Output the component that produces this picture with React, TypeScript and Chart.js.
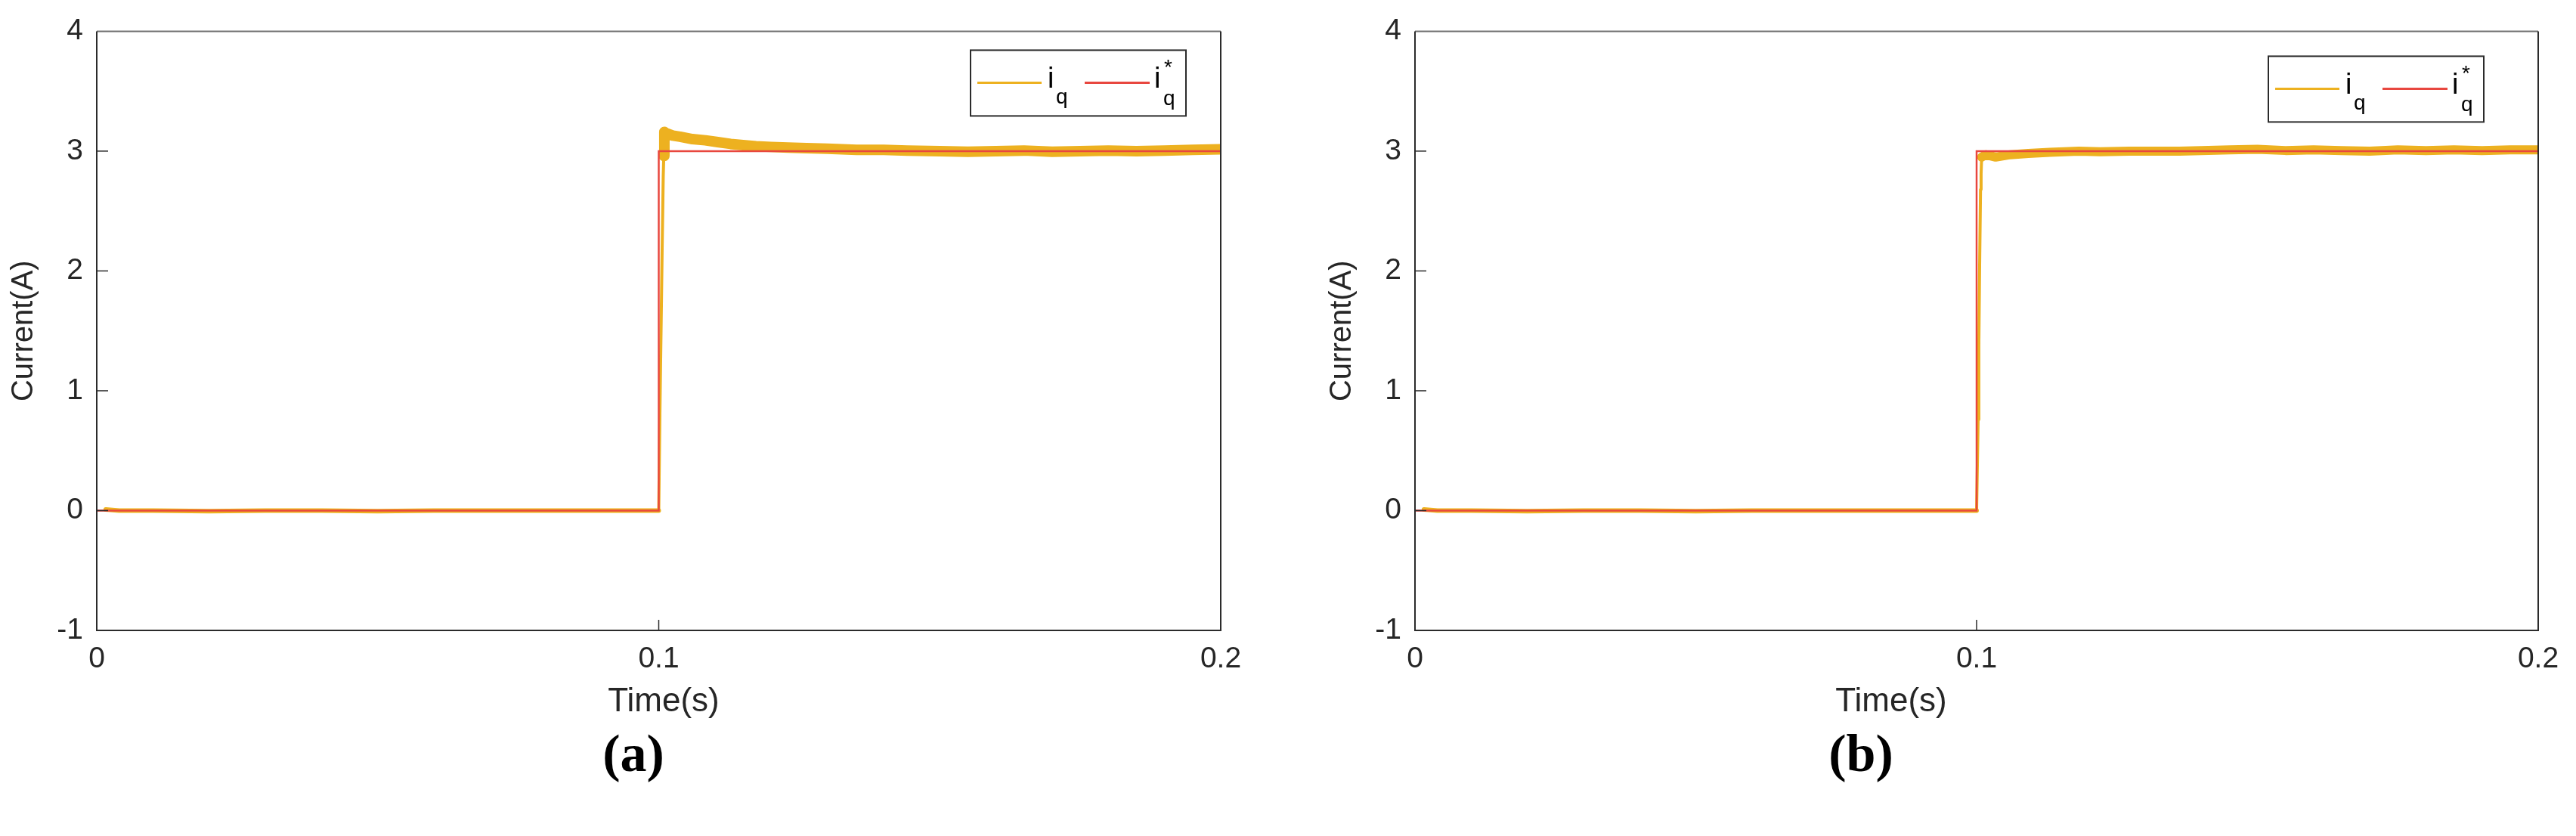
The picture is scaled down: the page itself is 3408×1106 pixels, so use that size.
import React, { useEffect, useRef } from 'react';
import { Chart, registerables } from 'chart.js';

Chart.register(...registerables);

// ---------- data ----------
const xTickValues = [0, 0.1, 0.2];
const yTickValues = [-1, 0, 1, 2, 3, 4];

// reference current i_q* (same in both panels)
const refTime = [0, 0.1, 0.1, 0.2];
const refCurrent = [0, 0, 3, 3];

// measured i_q, panel (a)
const timeA = [0.0016, 0.004, 0.01, 0.02, 0.03, 0.04, 0.05, 0.06, 0.07, 0.08, 0.09, 0.1,
  0.1002, 0.1004, 0.1006, 0.1008, 0.1009, 0.101, 0.1013, 0.1025, 0.1038, 0.106, 0.1083,
  0.1105, 0.1128, 0.115, 0.1173, 0.12, 0.123, 0.1263, 0.13, 0.1352, 0.14, 0.1442, 0.15,
  0.155, 0.16, 0.165, 0.17, 0.175, 0.18, 0.185, 0.19, 0.195, 0.2];
const iqA = [0.01, 0, 0, -0.005, 0, 0, -0.005, 0, 0, 0, 0, 0,
  0.79, 1.47, 2.16, 2.79, 2.96, 3.16, 3.15, 3.13, 3.12, 3.1, 3.09,
  3.075, 3.06, 3.05, 3.04, 3.035, 3.03, 3.025, 3.02, 3.01, 3.01, 3.005, 3.0,
  2.995, 3.0, 3.005, 2.995, 3.0, 3.005, 3.0, 3.005, 3.01, 3.015];

// measured i_q, panel (b)
const timeB = [0.0016, 0.004, 0.01, 0.02, 0.03, 0.04, 0.05, 0.06, 0.07, 0.08, 0.09, 0.1,
  0.10027, 0.1004, 0.10054, 0.1007, 0.1008, 0.1009, 0.1016, 0.1034, 0.106, 0.1092, 0.113,
  0.1182, 0.122, 0.1272, 0.131, 0.1361, 0.14, 0.1451, 0.15, 0.155, 0.16, 0.165, 0.17,
  0.175, 0.18, 0.185, 0.19, 0.195, 0.2];
const iqB = [0.01, 0, 0, -0.005, 0, 0, -0.005, 0, 0, 0, 0, 0,
  0.76, 1.39, 2.05, 2.68, 2.81, 2.95, 2.97, 2.95, 2.97, 2.98, 2.99,
  3.0, 2.995, 3.0, 3.0, 3.0, 3.005, 3.01, 3.015, 3.005, 3.01, 3.005, 3.0,
  3.01, 3.005, 3.01, 3.005, 3.01, 3.01];

const xTitleText = 'Time(s)';
const yTitleText = 'Current(A)';
const captions = ['(a)', '(b)'];

// ---------- styles ----------
const FONT = "'Liberation Sans', Arial, Helvetica, sans-serif";
const YELLOW = '#EDB120';
const RED = '#E8473F';
const AXIS_DARK = '#2b2b2b';
const AXIS_LIGHT = '#727272';
const TEXT = '#262626';
const CANVAS_H = 970;

type PanelProps = {
  time: number[];
  iq: number[];
  left: number;
  width: number;
  padRight: number;
  legendRightGap: number;
  legendTopGap: number;
  xTitleX: number;
  bandWidth: number;
};

function makePlugins(p: PanelProps) {
  const frame = {
    id: 'frameTicks',
    afterDatasetsDraw(chart: any) {
      const { ctx, chartArea } = chart;
      const { left, right, top, bottom } = chartArea;
      const xs = chart.scales.x;
      const ys = chart.scales.y;
      ctx.save();
      ctx.lineWidth = 2;
      const line = (x1: number, y1: number, x2: number, y2: number) => {
        ctx.beginPath();
        ctx.moveTo(x1, y1);
        ctx.lineTo(x2, y2);
        ctx.stroke();
      };
      ctx.strokeStyle = AXIS_LIGHT;
      line(left, top, right, top);
      ctx.strokeStyle = AXIS_DARK;
      line(right, top, right, bottom);
      line(left, top, left, bottom + 1);
      line(left - 1, bottom, right + 1, bottom);
      ctx.lineWidth = 1.5;
      yTickValues.forEach((v) => {
        const y = ys.getPixelForValue(v);
        if (Math.abs(y - top) < 2 || Math.abs(y - bottom) < 2) return;
        line(left, y, left + 15, y);
      });
      xTickValues.forEach((v) => {
        const x = xs.getPixelForValue(v);
        if (Math.abs(x - left) < 2 || Math.abs(x - right) < 2) return;
        line(x, bottom, x, bottom - 14);
      });
      ctx.restore();
    },
  };

  const legend = {
    id: 'subLegend',
    afterDraw(chart: any) {
      const { ctx, chartArea } = chart;
      const W = 285;
      const H = 87;
      const L = chartArea.right - p.legendRightGap - W;
      const T = chartArea.top + p.legendTopGap;
      ctx.save();
      ctx.fillStyle = '#ffffff';
      ctx.fillRect(L, T, W, H);
      ctx.strokeStyle = AXIS_DARK;
      ctx.lineWidth = 2;
      ctx.strokeRect(L, T, W, H);
      ctx.lineWidth = 3;
      ctx.strokeStyle = YELLOW;
      ctx.beginPath();
      ctx.moveTo(L + 9, T + 43);
      ctx.lineTo(L + 94, T + 43);
      ctx.stroke();
      ctx.strokeStyle = RED;
      ctx.beginPath();
      ctx.moveTo(L + 151, T + 43);
      ctx.lineTo(L + 237, T + 43);
      ctx.stroke();
      ctx.fillStyle = '#000000';
      ctx.textAlign = 'left';
      ctx.textBaseline = 'alphabetic';
      ctx.font = `38px ${FONT}`;
      ctx.fillText('i', L + 102, T + 50);
      ctx.fillText('i', L + 243, T + 50);
      ctx.font = `28px ${FONT}`;
      ctx.fillText('q', L + 113, T + 71);
      ctx.fillText('q', L + 255, T + 73);
      ctx.fillText('*', L + 256, T + 32);
      ctx.restore();
    },
  };

  const xTitle = {
    id: 'xTitleText',
    afterDraw(chart: any) {
      const { ctx } = chart;
      ctx.save();
      ctx.fillStyle = TEXT;
      ctx.font = `44px ${FONT}`;
      ctx.textAlign = 'center';
      ctx.textBaseline = 'alphabetic';
      ctx.fillText(xTitleText, p.xTitleX, 941);
      ctx.restore();
    },
  };
  return [frame, legend, xTitle];
}

function Panel(p: PanelProps) {
  const ref = useRef<HTMLCanvasElement | null>(null);
  useEffect(() => {
    const canvas = ref.current;
    if (!canvas) return;
    const measured = p.time.map((t, i) => ({ x: t, y: p.iq[i] }));
    const reference = refTime.map((t, i) => ({ x: t, y: refCurrent[i] }));
    const chart = new Chart(canvas, {
      type: 'line',
      data: {
        datasets: [
          {
            label: 'i_q*',
            data: reference,
            borderColor: RED,
            borderWidth: 2.5,
            pointRadius: 0,
            tension: 0,
            clip: 0,
          } as any,
          {
            label: 'i_q',
            data: measured,
            borderColor: YELLOW,
            borderWidth: 4,
            pointRadius: 0,
            tension: 0,
            borderJoinStyle: 'round',
            borderCapStyle: 'round',
            clip: 0,
            segment: {
              borderWidth: (c: any) => {
                const a = c.p0.parsed.y;
                const b = c.p1.parsed.y;
                if (a > 2.94 && b > 2.94) return p.bandWidth;
                if (Math.abs(a) < 0.3 && Math.abs(b) < 0.3) return 6;
                return 4;
              },
            },
          } as any,
        ],
      },
      options: {
        responsive: false,
        animation: false,
        devicePixelRatio: 1,
        events: [],
        layout: { padding: { left: 0, top: 38, right: p.padRight, bottom: CANVAS_H - 834 - 130 } },
        plugins: { legend: { display: false }, tooltip: { enabled: false }, title: { display: false } },
        scales: {
          x: {
            type: 'linear',
            min: 0,
            max: 0.2,
            offset: false,
            grid: { display: false, drawTicks: false },
            border: { display: false },
            ticks: {
              stepSize: 0.1,
              padding: 15,
              color: TEXT,
              maxRotation: 0,
              font: { family: FONT, size: 39 },
              callback: (v: any) => String(+Number(v).toFixed(2)),
            },
            afterFit: (s: any) => {
              s.height = 130;
            },
          },
          y: {
            type: 'linear',
            min: -1,
            max: 4,
            grid: { display: false, drawTicks: false },
            border: { display: false },
            ticks: {
              stepSize: 1,
              padding: 18,
              color: TEXT,
              font: { family: FONT, size: 39 },
              callback: (v: any) => String(Math.round(Number(v))),
            },
            title: {
              display: true,
              text: yTitleText,
              color: TEXT,
              font: { family: FONT, size: 40 },
              padding: { top: 8, bottom: 0 },
            },
            afterFit: (s: any) => {
              s.width = 128;
            },
          },
        },
      } as any,
      plugins: makePlugins(p) as any,
    });
    return () => chart.destroy();
  }, []);
  return (
    <canvas
      ref={ref}
      width={p.width}
      height={CANVAS_H}
      style={{ position: 'absolute', left: p.left, top: 0, width: p.width, height: CANVAS_H }}
    />
  );
}

const captionStyle = (cx: number): React.CSSProperties => ({
  position: 'absolute',
  left: cx - 150,
  width: 300,
  top: 957,
  height: 80,
  lineHeight: '80px',
  textAlign: 'center',
  fontFamily: "'Liberation Serif', 'Times New Roman', serif",
  fontWeight: 'bold',
  fontSize: 70,
  color: '#000',
});

export default function App() {
  return (
    <div style={{ position: 'absolute', left: 0, top: 0, width: 3408, height: 1106, background: '#fff', overflow: 'hidden' }}>
      <Panel time={timeA} iq={iqA} left={0} width={1744} padRight={1744 - 1615} legendRightGap={46} legendTopGap={25} xTitleX={878} bandWidth={14} />
      <Panel time={timeB} iq={iqB} left={1744} width={1664} padRight={3408 - 3358} legendRightGap={72} legendTopGap={33} xTitleX={2502 - 1744} bandWidth={12} />
      <div style={captionStyle(838)}>{captions[0]}</div>
      <div style={captionStyle(2462)}>{captions[1]}</div>
    </div>
  );
}
